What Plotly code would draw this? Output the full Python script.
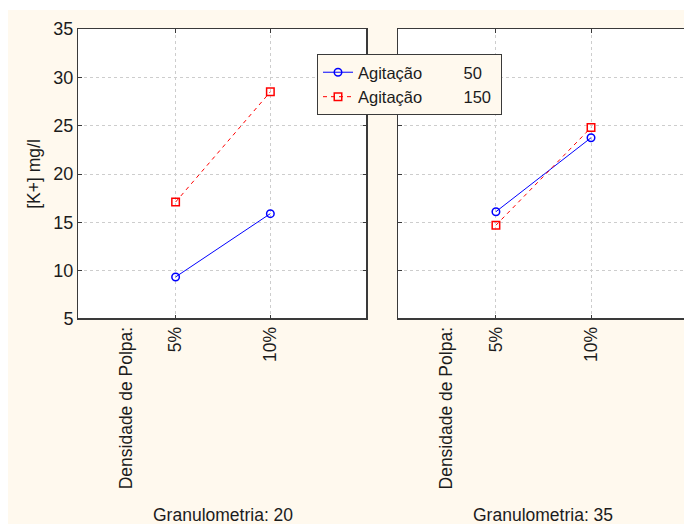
import plotly.graph_objects as go

# ---- data ----
categories = ["5%", "10%"]
cat_pos = [1, 2]
panels = ["Granulometria: 20", "Granulometria: 35"]
series_names = ["Agitação\u00a0\u00a0\u00a0\u00a0\u00a0\u00a0\u00a0\u00a0\u00a050\u00a0",
                "Agitação\u00a0\u00a0\u00a0\u00a0\u00a0\u00a0\u00a0\u00a0\u00a0150\u00a0"]
agit50_g20 = [9.35, 15.9]
agit150_g20 = [17.1, 28.5]
agit50_g35 = [16.1, 23.75]
agit150_g35 = [14.7, 24.8]
y_ticks = [5, 10, 15, 20, 25, 30, 35]
factor_label = "Densidade de Polpa:"
y_title = "[K+] mg/l"

CREAM = "#FFF9EE"
FONT = "Liberation Sans, Arial, sans-serif"
TXT = "#1c1c1c"
FRAME = "#3a3a3a"

fig = go.Figure()

blue = dict(color="#0000FF", width=1)
red = dict(color="#FF0000", width=1, dash="4px,4px")
mblue = dict(symbol="circle-open", size=7.5, color="#0000FF", line=dict(width=1.5))
mred = dict(symbol="square-open", size=7.5, color="#FF0000", line=dict(width=1.5))

fig.add_trace(go.Scatter(x=cat_pos, y=agit50_g20, mode="lines+markers", line=blue, marker=mblue,
                         name=series_names[0], xaxis="x", yaxis="y"))
fig.add_trace(go.Scatter(x=cat_pos, y=agit150_g20, mode="lines+markers", line=red, marker=mred,
                         name=series_names[1], xaxis="x", yaxis="y"))
fig.add_trace(go.Scatter(x=cat_pos, y=agit50_g35, mode="lines+markers", line=blue, marker=mblue,
                         name=series_names[0], showlegend=False, xaxis="x2", yaxis="y2"))
fig.add_trace(go.Scatter(x=cat_pos, y=agit150_g35, mode="lines+markers", line=red, marker=mred,
                         name=series_names[1], showlegend=False, xaxis="x2", yaxis="y2"))

# page is offset by the 8px body margin; all page coords below are converted
OFF = 8
W, H = 692 - OFF, 524 - OFF
ml, mr, mt, mb = 78 - OFF, 4, 29 - OFF, H - (319 - OFF)
pw = W - ml - mr
ph = H - mt - mb

def px_x(p):
    return (p - OFF - ml) / pw

def px_y(p):
    return (H - mb - (p - OFF)) / ph

dom1 = [0, px_x(367)]
dom2 = [px_x(398), 1]

xcommon = dict(range=[-0.03, 3.02], tickvals=cat_pos, ticktext=categories, tickangle=-90,
               showgrid=True, gridcolor="#cdcdcd", griddash="dot", gridwidth=1,
               zeroline=False, showline=True, linecolor=FRAME, linewidth=1, mirror="allticks",
               ticks="inside", ticklen=4, tickcolor=FRAME,
               tickfont=dict(family=FONT, size=17.5, color=TXT), fixedrange=True)
ycommon = dict(range=[5, 35], tickvals=y_ticks,
               showgrid=True, gridcolor="#cdcdcd", griddash="dot", gridwidth=1,
               zeroline=False, showline=True, linecolor=FRAME, linewidth=1, mirror="allticks",
               ticks="inside", ticklen=4, tickcolor=FRAME,
               tickfont=dict(family=FONT, size=18, color=TXT), fixedrange=True)

fig.update_layout(
    width=W, height=H,
    margin=dict(l=ml, r=mr, t=mt, b=mb, pad=0),
    paper_bgcolor=CREAM, plot_bgcolor="white",
    font=dict(family=FONT, size=17, color=TXT),
    xaxis=dict(domain=dom1, anchor="y", **xcommon),
    xaxis2=dict(domain=dom2, anchor="y2", **xcommon),
    yaxis=dict(domain=[0, 1], anchor="x", title=dict(text=y_title, standoff=8,
               font=dict(family=FONT, size=17.5, color=TXT)), **ycommon),
    yaxis2=dict(domain=[0, 1], anchor="x2", showticklabels=False, **ycommon),
    showlegend=True,
    legend=dict(x=px_x(317), y=px_y(54), xanchor="left", yanchor="top",
                bgcolor=CREAM, bordercolor=FRAME, borderwidth=1,
                font=dict(family=FONT, size=16.5, color=TXT),
                tracegroupgap=0, itemwidth=30),
)

shapes = []
# thin white strip at the top (page y 8..10)
shapes.append(dict(type="rect", xref="paper", yref="paper", x0=px_x(0), x1=px_x(700),
                   y0=px_y(10), y1=px_y(0), fillcolor="white", line=dict(width=0), layer="above"))
# thicker right/bottom frame edges
for xr, yr in (("x domain", "y domain"), ("x2 domain", "y2 domain")):
    shapes.append(dict(type="line", xref=xr, yref=yr, x0=1, x1=1, y0=0, y1=1,
                       line=dict(color=FRAME, width=2), layer="above"))
    shapes.append(dict(type="line", xref=xr, yref=yr, x0=0, x1=1, y0=0, y1=0,
                       line=dict(color=FRAME, width=2), layer="above"))
fig.update_layout(shapes=shapes)

annotations = []
for xr, title in (("x", panels[0]), ("x2", panels[1])):
    annotations.append(dict(text=factor_label, xref=xr, yref="paper", x=0.48, y=px_y(325),
                            xanchor="center", yanchor="top", textangle=-90, showarrow=False,
                            font=dict(family=FONT, size=17.5, color=TXT)))
    annotations.append(dict(text=title, xref=xr + " domain", yref="paper", x=0.5, y=px_y(515),
                            xanchor="center", yanchor="middle", showarrow=False,
                            font=dict(family=FONT, size=17.5, color=TXT)))
fig.update_layout(annotations=annotations)

fig.write_html("out.html")
